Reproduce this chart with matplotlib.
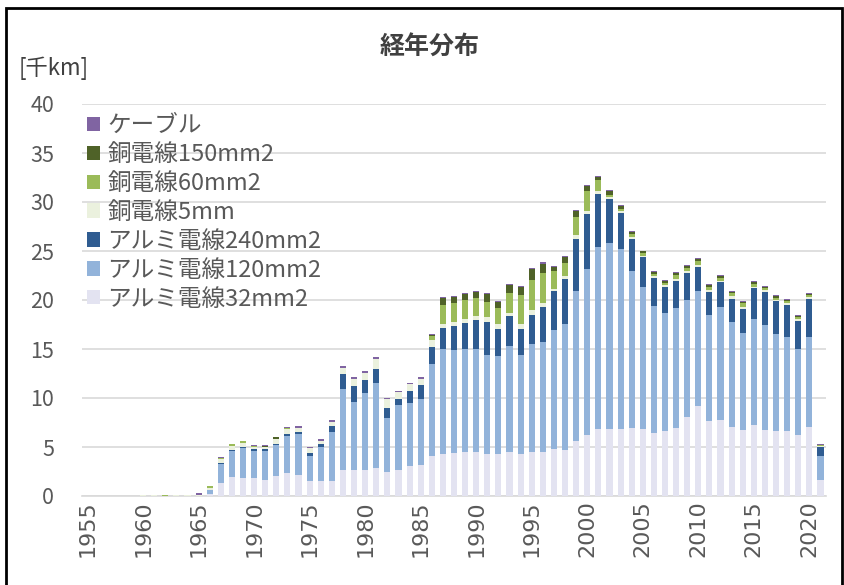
import numpy as np
import matplotlib
matplotlib.use("Agg")
import matplotlib.pyplot as plt
from matplotlib.patches import Rectangle

plt.rcParams['font.family'] = ['Noto Sans CJK JP', 'DejaVu Sans']

# データ（千km）
years = list(range(1955, 2022))
n_zero = 5  # 1955-1959 は 0

alu32 = [0]*n_zero + [0, 0, 0, 0, 0, 0, 0.25,
    1.35, 1.9, 1.8, 1.8, 1.65, 2.05, 2.3, 2.15, 1.5, 1.5, 1.55,
    2.7, 2.7, 2.7, 2.9, 2.4, 2.65, 3.05, 3.2, 4.1,
    4.25, 4.4, 4.5, 4.5, 4.25, 4.25, 4.5, 4.25, 4.5, 4.5, 4.8,
    4.7, 5.65, 6.2, 6.8, 6.8, 6.8, 6.9, 6.8, 6.45, 6.6, 6.95,
    8.05, 9.2, 7.65, 7.75, 7.0, 6.75, 7.25, 6.75, 6.6, 6.6, 6.25, 7.0, 1.6]
alu120 = [0]*n_zero + [0, 0, 0, 0, 0, 0, 0.35,
    1.95, 2.7, 3.1, 2.8, 2.95, 3.2, 3.85, 4.15, 2.6, 3.55, 4.95,
    8.2, 6.9, 7.8, 8.6, 5.6, 6.65, 6.45, 6.7, 9.35,
    10.75, 10.5, 10.5, 10.5, 10.1, 10.0, 10.8, 10.1, 11.0, 11.2, 12.1,
    12.85, 15.25, 17.0, 18.65, 19.05, 18.4, 16.05, 14.55, 12.95, 12.1, 12.25,
    11.9, 11.75, 10.8, 11.5, 10.75, 9.9, 10.85, 10.65, 9.9, 9.65, 8.7, 9.25, 2.5]
alu240 = [0]*n_zero + [0, 0, 0, 0, 0, 0, 0,
    0.1, 0.1, 0.05, 0.2, 0.2, 0.05, 0.15, 0.25, 0.3, 0.25, 0.65,
    1.5, 1.6, 1.35, 1.5, 0.95, 0.55, 1.2, 1.45, 1.8,
    2.1, 2.45, 2.7, 2.95, 3.45, 2.75, 3.05, 2.65, 2.95, 3.55, 4.0,
    4.55, 5.3, 5.6, 5.35, 4.45, 3.65, 3.25, 3.0, 2.85, 2.65, 2.75,
    2.85, 2.45, 2.4, 2.55, 2.4, 2.45, 3.1, 3.4, 3.4, 3.25, 2.95, 3.9, 0.9]
cu5 = [0]*n_zero + [0.1, 0.1, 0.05, 0.1, 0.1, 0.1, 0.25,
    0.35, 0.4, 0.45, 0.2, 0.2, 0.5, 0.55, 0.35, 0.45, 0.35, 0.45,
    0.7, 0.7, 0.75, 1.0, 0.95, 0.75, 0.7, 0.6, 0.65,
    0.5, 0.45, 0.4, 0.4, 0.5, 0.55, 0.35, 0.55, 0.5, 0.4, 0.25,
    0.35, 0.45, 0.25, 0.35, 0.2, 0.2, 0.2, 0.15, 0.2, 0.15, 0.2,
    0.2, 0.2, 0.15, 0.15, 0.25, 0.15, 0.15, 0.2, 0.15, 0.15, 0.15, 0.2, 0.1]
cu60 = [0]*n_zero + [0, 0, 0.1, 0, 0, 0, 0.15,
    0.15, 0.2, 0.2, 0.1, 0.05, 0.05, 0.05, 0.05, 0, 0, 0,
    0, 0, 0, 0, 0, 0, 0, 0, 0.4,
    1.9, 1.85, 1.9, 1.85, 1.5, 1.6, 2.0, 2.95, 3.1, 3.15, 1.85,
    1.35, 1.85, 2.05, 1.05, 0.25, 0.25, 0.3, 0.25, 0.25, 0.25, 0.4,
    0.3, 0.35, 0.35, 0.25, 0.3, 0.4, 0.25, 0.2, 0.2, 0.2, 0.2, 0.15, 0.1]
cu150 = [0]*n_zero + [0, 0, 0, 0, 0, 0, 0,
    0, 0, 0, 0.05, 0.1, 0.15, 0.05, 0, 0, 0, 0,
    0, 0, 0, 0, 0, 0, 0, 0, 0.15,
    0.7, 0.65, 0.6, 0.65, 0.8, 0.65, 0.85, 0.85, 1.1, 0.9, 0.4,
    0.55, 0.6, 0.5, 0.35, 0.35, 0.25, 0.2, 0.2, 0.15, 0.15, 0.2,
    0.15, 0.25, 0.2, 0.2, 0.15, 0.15, 0.2, 0.15, 0.15, 0.15, 0.15, 0.1, 0.0]
cable = [0]*n_zero + [0, 0, 0, 0, 0, 0.2, 0.05,
    0.05, 0.05, 0.05, 0.05, 0.05, 0.05, 0.1, 0.15, 0.15, 0.15, 0.2,
    0.2, 0.2, 0.15, 0.15, 0.1, 0.15, 0.15, 0.15, 0.1,
    0.1, 0.1, 0.1, 0.1, 0.1, 0.1, 0.1, 0.1, 0.1, 0.15, 0.1,
    0.15, 0.1, 0.1, 0.15, 0.1, 0.1, 0.1, 0.1, 0.1, 0.1, 0.15,
    0.1, 0.1, 0.1, 0.15, 0.1, 0.1, 0.1, 0.1, 0.1, 0.1, 0.1, 0.1, 0.1]

series = [
    ("アルミ電線32mm2", alu32, "#E3E3F1"),
    ("アルミ電線120mm2", alu120, "#92B3DA"),
    ("アルミ電線240mm2", alu240, "#2F5C91"),
    ("銅電線5mm", cu5, "#EBF1DE"),
    ("銅電線60mm2", cu60, "#9BBB59"),
    ("銅電線150mm2", cu150, "#4F6228"),
    ("ケーブル", cable, "#8064A2"),
]

fig = plt.figure(figsize=(8.45, 5.85), dpi=100)
ax = fig.add_axes([82/845, 89/585, 744/845, 392/585])

x = np.arange(len(years))
bottom = np.zeros(len(years))
for name, vals, col in series:
    ax.bar(x, vals, 0.55, bottom=bottom, color=col, label=name, zorder=3)
    bottom += np.array(vals)

ax.set_xlim(-0.5, len(years) - 0.5)
ax.set_ylim(0, 40)
ax.set_yticks(range(0, 41, 5))
ax.yaxis.grid(True, color="#D9D9D9", linewidth=1.2, zorder=0)
for s in ["top", "right", "left"]:
    ax.spines[s].set_visible(False)
ax.spines["bottom"].set_color("#D9D9D9")
ax.spines["bottom"].set_linewidth(1.2)
ax.tick_params(axis="both", length=0, labelsize=15.5, labelcolor="#595959")
ax.tick_params(axis="y", pad=20)
ax.tick_params(axis="x", pad=3)
ticks = [i for i, y in enumerate(years) if y % 5 == 0]
ax.set_xticks(ticks)
ax.set_xticklabels([str(years[i]) for i in ticks], rotation=90,
                   family="DejaVu Sans", fontsize=16)

fig.text(0.509, 0.918, "経年分布", ha="center", va="center",
         fontsize=18, fontweight="bold", color="#404040")
fig.text(0.022, 0.884, "[千km]", ha="left", va="center",
         fontsize=16, color="#404040")

h, l = ax.get_legend_handles_labels()
leg = ax.legend(h[::-1], l[::-1], loc="upper left", bbox_to_anchor=(-0.012, 1.01),
                frameon=False, fontsize=17, handlelength=0.55, handleheight=0.55,
                handletextpad=0.3, labelspacing=0.25, borderaxespad=0.2)
for t in leg.get_texts():
    t.set_color("#595959")

fig.patches.append(Rectangle((6/845, -0.01), 836/845, 1 - 8/585 + 0.01,
                             transform=fig.transFigure, fill=False,
                             edgecolor="black", linewidth=2))

fig.savefig("out.png", dpi=100)
